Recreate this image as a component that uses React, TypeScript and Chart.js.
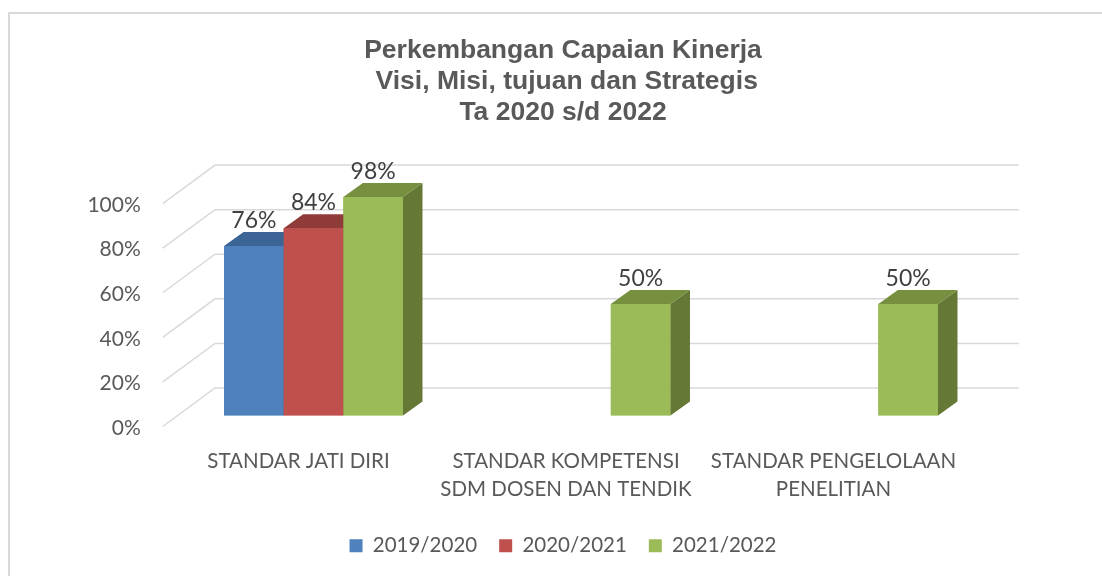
import React, { useEffect, useRef } from 'react';
import { Chart, registerables } from 'chart.js';

Chart.register(...registerables);

const titleLines = ['Perkembangan Capaian Kinerja', ' Visi, Misi, tujuan dan Strategis', 'Ta 2020 s/d 2022'];
const categories = [
  ['STANDAR JATI DIRI'],
  ['STANDAR KOMPETENSI', 'SDM DOSEN DAN TENDIK'],
  ['STANDAR PENGELOLAAN', 'PENELITIAN'],
];
const seriesNames = ['2019/2020', '2020/2021', '2021/2022'];
const values2019 = [76, null, null];
const values2020 = [84, null, null];
const values2021 = [98, 50, 50];
const yTickValues = [0, 20, 40, 60, 80, 100];

const frontColors = ['#4f81bd', '#c0504d', '#9bbb59'];
const topColors = ['#3c6494', '#8f3b39', '#77903f'];
const sideColors = ['#365a86', '#833633', '#657836'];

// depth geometry
const DX = 19.5;
const DY = -14;
const BACK_X = 35.25;
const BACK_Y = -27.5;
const FRONT_X = -17;
const FRONT_Y = 11;
const BACK_RIGHT_EXTRA = 36.75;

const gridPlugin = {
  id: 'grid3d',
  beforeDatasetsDraw(chart: any) {
    const { ctx, chartArea } = chart;
    const ys = chart.scales.y;
    ctx.save();
    ctx.strokeStyle = '#d9d9d9';
    ctx.lineWidth = 1.5;
    yTickValues.forEach((v) => {
      const yb = ys.getPixelForValue(v);
      ctx.beginPath();
      ctx.moveTo(chartArea.left + FRONT_X, yb + FRONT_Y);
      ctx.lineTo(chartArea.left + BACK_X, yb + BACK_Y);
      ctx.lineTo(chartArea.right + BACK_RIGHT_EXTRA, yb + BACK_Y);
      ctx.stroke();
    });
    ctx.restore();
  },
};

const depthPlugin = {
  id: 'depth3d',
  afterDatasetsDraw(chart: any) {
    const { ctx } = chart;
    ctx.save();
    // draw boxes left to right (dataset order) so nearer faces cover the hidden sides
    chart.data.datasets.forEach((ds: any, di: number) => {
      const meta = chart.getDatasetMeta(di);
      meta.data.forEach((el: any, i: number) => {
        const v = ds.data[i];
        if (v === null || v === undefined) return;
        const { x, y, base, width } = el.getProps(['x', 'y', 'base', 'width'], true);
        const left = x - width / 2;
        const right = x + width / 2;
        ctx.fillStyle = frontColors[di];
        ctx.fillRect(left, y, width, base - y);
        ctx.fillStyle = sideColors[di];
        ctx.beginPath();
        ctx.moveTo(right, y);
        ctx.lineTo(right + DX, y + DY);
        ctx.lineTo(right + DX, base + DY);
        ctx.lineTo(right, base);
        ctx.closePath();
        ctx.fill();
        ctx.fillStyle = topColors[di];
        ctx.beginPath();
        ctx.moveTo(left, y);
        ctx.lineTo(left + DX, y + DY);
        ctx.lineTo(right + DX, y + DY);
        ctx.lineTo(right, y);
        ctx.closePath();
        ctx.fill();
      });
    });
    ctx.font = '23px Lato';
    ctx.fillStyle = '#404040';
    ctx.textAlign = 'center';
    ctx.textBaseline = 'alphabetic';
    chart.data.datasets.forEach((ds: any, di: number) => {
      const meta = chart.getDatasetMeta(di);
      meta.data.forEach((el: any, i: number) => {
        const v = ds.data[i];
        if (v === null || v === undefined) return;
        const { x, y } = el.getProps(['x', 'y'], true);
        ctx.fillText(v + '%', x, y + DY - 4.5);
      });
    });
    ctx.restore();
  },
};

export default function App() {
  const canvasRef = useRef<HTMLCanvasElement | null>(null);

  useEffect(() => {
    if (!canvasRef.current) return;
    const series = [values2019, values2020, values2021];
    const chart = new Chart(canvasRef.current, {
      type: 'bar',
      data: {
        labels: categories,
        datasets: series.map((vals, i) => ({
          label: seriesNames[i],
          data: vals,
          backgroundColor: frontColors[i],
          borderWidth: 0,
          barPercentage: 1,
          categoryPercentage: 0.669,
        })),
      },
      options: {
        responsive: false,
        animation: false,
        layout: { padding: { left: 80, right: 56, top: 0, bottom: 10 } },
        plugins: {
          title: {
            display: true,
            text: titleLines,
            color: '#595959',
            font: { family: 'Liberation Sans', size: 26.5, weight: 'bold', lineHeight: 1.18 },
            padding: { top: 35, bottom: 63.8 },
          },
          legend: {
            display: true,
            position: 'bottom',
            labels: {
              boxWidth: 13,
              boxHeight: 13,
              padding: 22,
              color: '#595959',
              font: { family: 'Lato', size: 20.5 },
            },
          },
          tooltip: { enabled: false },
        },
        scales: {
          x: {
            grid: { display: false },
            border: { display: false },
            ticks: {
              color: '#595959',
              font: { family: 'Lato', size: 20.5, lineHeight: 1.33 },
              padding: 24.5,
              labelOffset: -15,
              maxRotation: 0,
              minRotation: 0,
              autoSkip: false,
            },
            afterFit: (scale: any) => {
              scale.height = 98;
            },
          },
          y: {
            min: 0,
            max: 100,
            grid: { display: false },
            border: { display: false },
            ticks: {
              stepSize: 20,
              color: '#595959',
              font: { family: 'Lato', size: 21 },
              padding: 31,
              labelOffset: 12.5,
              callback: (v: any) => v + '%',
            },
            afterFit: (scale: any) => {
              scale.width = 99.75;
            },
          },
          y2: {
            position: 'right',
            display: true,
            grid: { display: false },
            border: { display: false },
            ticks: { display: false },
            afterFit: (scale: any) => {
              scale.width = 63.75;
            },
          },
        },
      },
      plugins: [gridPlugin, depthPlugin],
    });
    return () => chart.destroy();
  }, []);

  return (
    <div style={{ position: 'fixed', left: 0, top: 0, width: 1102, height: 576, overflow: 'hidden', background: '#ffffff' }}>
      <div style={{ position: 'absolute', left: 8, top: 12, width: 1200, height: 700, border: '2px solid #d9d9d9', pointerEvents: 'none' }} />
      <canvas ref={canvasRef} width={1102} height={576} style={{ position: 'absolute', left: 0, top: 0 }} />
    </div>
  );
}
